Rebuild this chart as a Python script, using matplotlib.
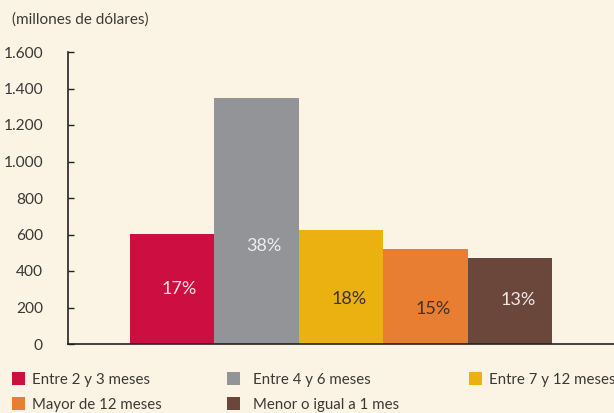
import matplotlib
matplotlib.use("Agg")
import matplotlib.pyplot as plt
from matplotlib.patches import Rectangle
from matplotlib.ticker import FuncFormatter, MultipleLocator

plt.rcParams['font.family'] = ['Lato', 'DejaVu Sans']

# Data (millones de dólares)
categorias = ["Entre 2 y 3 meses", "Entre 4 y 6 meses", "Entre 7 y 12 meses",
              "Mayor de 12 meses", "Menor o igual a 1 mes"]
montos = [603, 1348, 625, 520, 471]
porcentajes = ["17%", "38%", "18%", "15%", "13%"]

colores = ["#CC0E40", "#939498", "#EAB111", "#E87E31", "#6B473B"]
color_etiqueta = ["#F7E4E8", "#EEEEEE", "#3A3430", "#3A3430", "#EEE8E4"]
y_etiqueta = [301, 537, 247, 192, 241]

fondo = "#FBF4E4"
texto = "#3C3836"

fig = plt.figure(figsize=(6.14, 4.13), dpi=100, facecolor=fondo)
ax = fig.add_axes([68/614, 69/413, 1 - 68/614, (344-52)/413])
ax.set_facecolor(fondo)

x = list(range(len(montos)))
ax.bar(x, montos, width=1.0, color=colores, edgecolor="none", zorder=2)

for xi, lab, c, yl in zip(x, porcentajes, color_etiqueta, y_etiqueta):
    ax.text(xi + 0.09, yl, lab, ha="center", va="center", fontsize=13,
            color=c, zorder=3)

ax.set_xlim(-1.231, 5.23)
ax.set_ylim(0, 1600)
ax.yaxis.set_major_locator(MultipleLocator(200))
ax.yaxis.set_major_formatter(FuncFormatter(lambda v, p: f"{int(v):,}".replace(",", ".")))
ax.tick_params(axis="y", direction="in", length=4, width=1, color="#222222",
               labelsize=11.2, labelcolor=texto, pad=18)
ax.set_xticks([])
for s in ("top", "right"):
    ax.spines[s].set_visible(False)
for s in ("left", "bottom"):
    ax.spines[s].set_color("#222222")
    ax.spines[s].set_linewidth(1.2)

fig.text(12/614, 1 - 20/413, "(millones de dólares)", fontsize=11,
         color=texto, ha="left", va="center")

# Legend, laid out in two rows
pos_leyenda = [(12, 378), (227, 378), (469, 378), (12, 403), (227, 403)]
texto_x = [32, 253, 489, 32, 253]
for (px, py), tx, cat, col in zip(pos_leyenda, texto_x, categorias, colores):
    fig.add_artist(Rectangle((px/614, 1 - (py + 7)/413), 13/614, 13/413,
                             transform=fig.transFigure, color=col, lw=0))
    fig.text(tx/614, 1 - (py + 2)/413, cat, fontsize=10.8, color=texto,
             ha="left", va="center")

fig.savefig("out.png", dpi=100, facecolor=fondo)
